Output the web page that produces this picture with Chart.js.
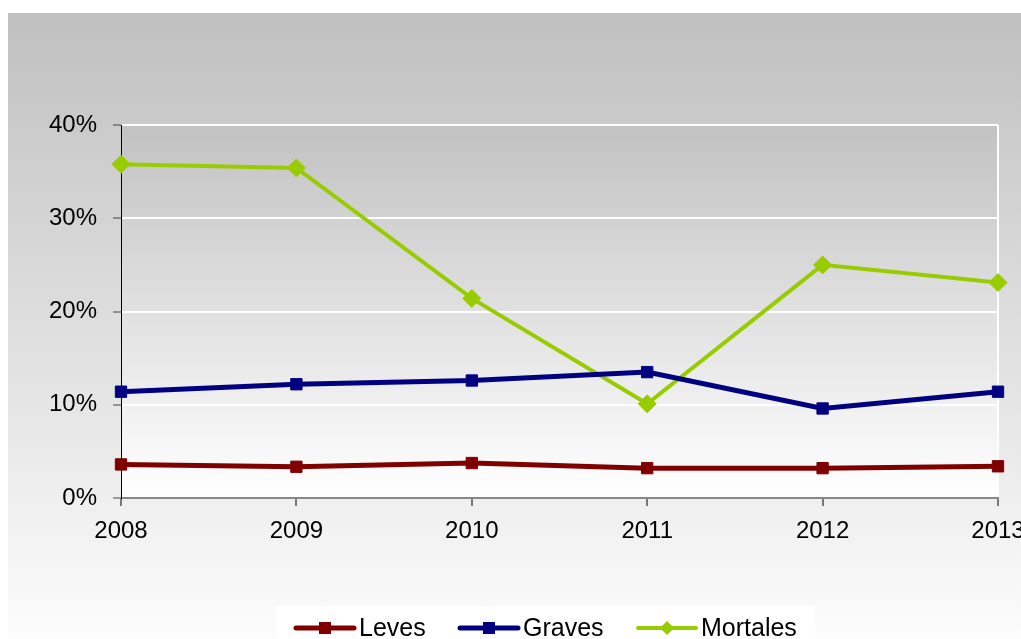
<!DOCTYPE html>
<html>

<head>
    <title>Leves / Graves / Mortales</title>
    <script src="https://cdn.jsdelivr.net/npm/chart.js"></script>
    <style>
        html, body {
            margin: 0;
            padding: 0;
            overflow: hidden;
            background: #fff;
        }
        .chart-container {
            width: 1021px;
            height: 639px;
        }
    </style>
</head>

<body>
    <div class="chart-container">
        <canvas id="lineChart"></canvas>
    </div>

    <script>
        const years = ['2008', '2009', '2010', '2011', '2012', '2013'];
        const leves = [3.6, 3.35, 3.75, 3.2, 3.2, 3.4];
        const graves = [11.4, 12.2, 12.6, 13.5, 9.6, 11.4];
        const mortales = [35.8, 35.4, 21.4, 10.1, 25.0, 23.1];
        const seriesNames = ['Leves', 'Graves', 'Mortales'];
        const colors = ['#800000', '#000080', '#99cc00'];

        const FONT = "'Liberation Sans', Arial, sans-serif";

        // background: outer gray gradient + plot area gradient
        const backgroundPlugin = {
            id: 'bg',
            beforeDraw: chart => {
                const ctx = chart.ctx;
                const area = chart.chartArea;
                ctx.save();
                ctx.fillStyle = '#ffffff';
                ctx.fillRect(0, 0, chart.width, chart.height);

                let g = ctx.createLinearGradient(0, 13, 0, chart.height);
                g.addColorStop(0, '#c0c0c0');
                g.addColorStop(1, '#fcfcfc');
                ctx.fillStyle = g;
                ctx.fillRect(8, 13, chart.width - 8, chart.height - 13);

                g = ctx.createLinearGradient(0, area.top, 0, area.bottom);
                g.addColorStop(0, '#c2c2c2');
                g.addColorStop(1, '#ffffff');
                ctx.fillStyle = g;
                ctx.fillRect(area.left, area.top, area.right - area.left, area.bottom - area.top);
                ctx.restore();
            }
        };

        // legend in a white box under the chart, line with marker like the source
        const legendItems = [
            { x1: 296, x2: 354, tx: 359 },
            { x1: 460, x2: 518, tx: 523 },
            { x1: 638, x2: 696, tx: 701 }
        ];
        const legendPlugin = {
            id: 'boxLegend',
            afterDraw: chart => {
                const ctx = chart.ctx;
                const y = 628;
                ctx.save();
                ctx.fillStyle = '#ffffff';
                ctx.fillRect(276, 606, 539, 33);
                chart.data.datasets.forEach((ds, i) => {
                    const it = legendItems[i];
                    ctx.strokeStyle = ds.borderColor;
                    ctx.lineWidth = ds.borderWidth;
                    ctx.lineCap = 'round';
                    ctx.beginPath();
                    ctx.moveTo(it.x1, y);
                    ctx.lineTo(it.x2, y);
                    ctx.stroke();
                    const cx = (it.x1 + it.x2) / 2;
                    ctx.fillStyle = ds.borderColor;
                    ctx.beginPath();
                    if (ds.pointStyle === 'rectRot') {
                        ctx.moveTo(cx - 7, y);
                        ctx.lineTo(cx, y - 7);
                        ctx.lineTo(cx + 7, y);
                        ctx.lineTo(cx, y + 7);
                        ctx.closePath();
                    } else {
                        ctx.rect(cx - 6, y - 6, 12, 12);
                    }
                    ctx.fill();
                    ctx.fillStyle = '#000';
                    ctx.font = '25px ' + FONT;
                    ctx.textAlign = 'left';
                    ctx.textBaseline = 'middle';
                    ctx.fillText(ds.label, it.tx, y + 1);
                });
                ctx.restore();
            }
        };

        const ctx = document.getElementById('lineChart').getContext('2d');
        const chart = new Chart(ctx, {
            type: 'line',
            data: {
                labels: years,
                datasets: [
                    {
                        label: seriesNames[0],
                        data: leves,
                        borderColor: colors[0],
                        backgroundColor: colors[0],
                        borderWidth: 5,
                        pointStyle: 'rect',
                        pointRadius: 8,
                        pointBorderWidth: 1
                    },
                    {
                        label: seriesNames[1],
                        data: graves,
                        borderColor: colors[1],
                        backgroundColor: colors[1],
                        borderWidth: 5,
                        pointStyle: 'rect',
                        pointRadius: 8,
                        pointBorderWidth: 1
                    },
                    {
                        label: seriesNames[2],
                        data: mortales,
                        borderColor: colors[2],
                        backgroundColor: colors[2],
                        borderWidth: 4,
                        pointStyle: 'rectRot',
                        pointRadius: 9,
                        pointBorderWidth: 1
                    }
                ]
            },
            options: {
                responsive: true,
                maintainAspectRatio: false,
                animation: false,
                layout: {
                    padding: { top: 125, right: 23, left: 0, bottom: 0 }
                },
                scales: {
                    x: {
                        offset: false,
                        grid: {
                            color: c => c.index === years.length - 1 ? '#ffffff' : 'rgba(0,0,0,0)',
                            lineWidth: 2,
                            tickColor: '#000',
                            tickWidth: 1,
                            tickLength: 8
                        },
                        border: { color: '#888888', width: 2 },
                        ticks: {
                            color: '#000',
                            font: { family: FONT, size: 24 },
                            padding: 11,
                            maxRotation: 0,
                            autoSkip: false
                        },
                        afterFit: scale => {
                            scale.paddingLeft = 0;
                            scale.paddingRight = 0;
                            scale.height = 141;
                        }
                    },
                    y: {
                        min: 0,
                        max: 40,
                        grid: {
                            color: c => c.tick.value === 0 ? '#888888' : '#ffffff',
                            lineWidth: 2,
                            tickColor: '#444',
                            tickWidth: 1,
                            tickLength: 8
                        },
                        border: { color: '#000', width: 1 },
                        ticks: {
                            stepSize: 10,
                            color: '#000',
                            font: { family: FONT, size: 24 },
                            padding: 16,
                            callback: v => v + '%'
                        },
                        afterFit: scale => {
                            scale.width = 121;
                        }
                    }
                },
                plugins: {
                    legend: { display: false },
                    tooltip: { enabled: false }
                }
            },
            plugins: [backgroundPlugin, legendPlugin]
        });
    </script>
</body>

</html>
